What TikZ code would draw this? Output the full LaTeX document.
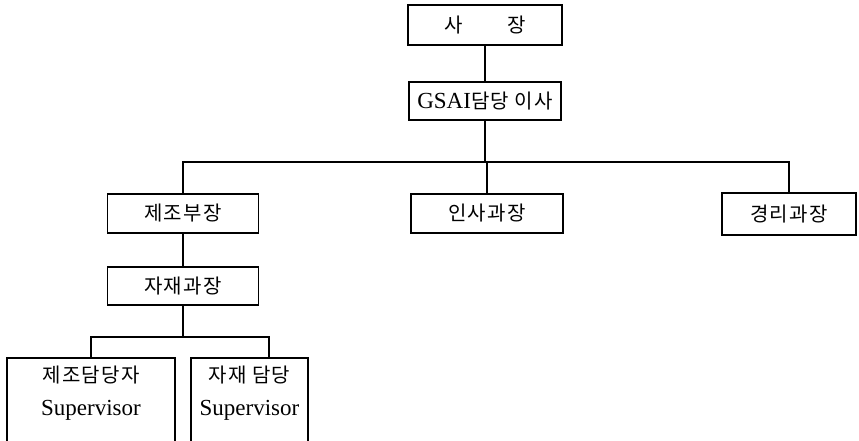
\documentclass[tikz,border=0pt]{standalone}
\usepackage{fontspec}
\setmainfont{Liberation Serif}
\newfontfamily\kr{Noto Sans CJK KR}[LetterSpace=6]
\begin{document}
\begin{tikzpicture}[x=1pt,y=-1pt,
  box/.style={draw, line width=1.4pt, inner sep=0pt, font=\fontsize{20}{24}\selectfont\kr},
  conn/.style={line width=1.4pt},
  latin/.style={}]
\useasboundingbox (0,0) rectangle (859,440);
% top
\node[box, minimum width=154pt, minimum height=40pt] (ceo) at (485,25) {사\hspace{44pt}장};
\node[box, minimum width=152pt, minimum height=38pt] (gsai) at (485,101)
  {{\fontsize{23}{26}\selectfont\rmfamily GSAI}담당 이사};
% second row
\node[box, minimum width=151pt, minimum height=39pt] (mfg) at (183,213.5) {제조부장};
\node[box, minimum width=152pt, minimum height=39pt] (hr) at (487,213.5) {인사과장};
\node[box, minimum width=134pt, minimum height=42pt] (acc) at (789,214) {경리과장};
% third row
\node[box, minimum width=151pt, minimum height=38pt] (mat) at (183,286) {자재과장};
% bottom
\node[box, minimum width=168pt, minimum height=86pt, align=center] (sup1) at (91,401)
  {제조담당자\\[9pt]{\fontsize{23}{26}\selectfont\rmfamily Supervisor}\\[-4pt]\mbox{}};
\node[box, minimum width=117pt, minimum height=86pt, align=center] (sup2) at (249.5,401)
  {자재 담당\\[9pt]{\fontsize{23}{26}\selectfont\rmfamily Supervisor}\\[-4pt]\mbox{}};
% connectors
\coordinate (bus1) at (485,162);
\coordinate (bus2) at (183,337);
\coordinate (s2top) at (269,358);
\draw[conn] (ceo.south) -- (gsai.north);
\draw[conn] (gsai.south) -- (bus1);
\draw[conn] (mfg.north) |- (bus1) -| (acc.north);
\draw[conn] (hr.north) -- (hr.north |- bus1);
\draw[conn] (mfg.south) -- (mat.north);
\draw[conn] (mat.south) -- (bus2);
\draw[conn] (sup1.north) |- (bus2) -| (s2top);
\end{tikzpicture}
\end{document}
